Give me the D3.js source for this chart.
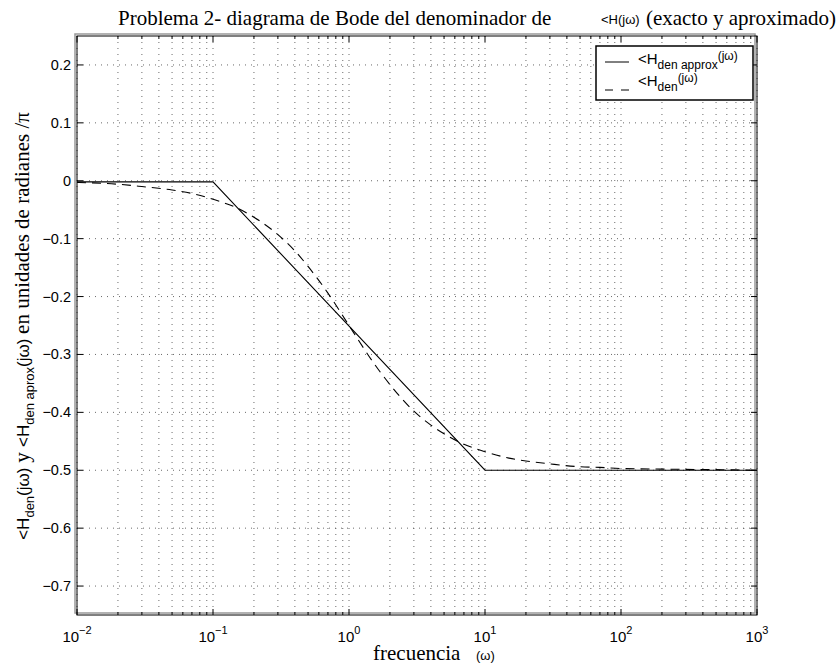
<!DOCTYPE html>
<html>
<head>
<meta charset="utf-8">
<script src="https://cdn.jsdelivr.net/npm/d3@7"></script>
<style>
  body { margin: 0; background: #fff; }
  .serif { font-family: "Liberation Serif", "Times New Roman", serif; }
  .sans { font-family: "Liberation Sans", Arial, sans-serif; }
</style>
</head>
<body>
<div id="chart"></div>
<script>
// frequencies (rad/s)
var wExact = [0.01, 0.02, 0.03, 0.05, 0.07, 0.1, 0.15, 0.2, 0.3, 0.4, 0.5, 0.7, 1,
              1.5, 2, 3, 4, 5, 7, 10, 15, 20, 30, 50, 70, 100, 200, 500, 1000];
// exact phase of the denominator, units of pi
var phExact = [-0.003, -0.006, -0.010, -0.016, -0.022, -0.032, -0.047, -0.063, -0.093, -0.121,
               -0.148, -0.194, -0.25, -0.313, -0.352, -0.398, -0.422, -0.437, -0.455, -0.468,
               -0.479, -0.484, -0.489, -0.494, -0.495, -0.497, -0.498, -0.499, -0.5];
// asymptotic approximation
var wApprox = [0.01, 0.1, 10, 1000];
var phApprox = [-0.002, -0.002, -0.5, -0.5];

var yTicks = [0.2, 0.1, 0, -0.1, -0.2, -0.3, -0.4, -0.5, -0.6, -0.7];
var xDecades = [-2, -1, 0, 1, 2, 3];

var W = 840, H = 668;
var svg = d3.select('#chart').append('svg')
    .attr('width', W).attr('height', H);

var x = d3.scaleLog().domain([0.01, 1000]).range([77, 757]);
var y = d3.scaleLinear().domain([-0.75, 0.25]).range([615, 36]);

// minor tick positions
var minors = [];
xDecades.slice(0, -1).forEach(function(e){
  for (var k = 2; k <= 9; k++) minors.push(k * Math.pow(10, e));
});
var majors = xDecades.map(function(e){ return Math.pow(10, e); });

// grid
var grid = svg.append('g').attr('stroke', '#444').attr('stroke-width', 0.8)
    .attr('stroke-dasharray', '1,5');
grid.selectAll('.gx').data(majors.concat(minors)).enter().append('line')
    .attr('x1', function(d){ return x(d); }).attr('x2', function(d){ return x(d); })
    .attr('y1', 36).attr('y2', 615);
grid.selectAll('.gy').data(yTicks).enter().append('line')
    .attr('y1', function(d){ return y(d); }).attr('y2', function(d){ return y(d); })
    .attr('x1', 77).attr('x2', 757);

// frame (gray shadow + black)
svg.append('rect').attr('x', 75).attr('y', 34).attr('width', 680).attr('height', 579)
    .attr('fill', 'none').attr('stroke', '#999').attr('stroke-width', 1.5);
svg.append('rect').attr('x', 77).attr('y', 36).attr('width', 680).attr('height', 579)
    .attr('fill', 'none').attr('stroke', '#000').attr('stroke-width', 1);

// ticks
var tk = svg.append('g').attr('stroke', '#000').attr('stroke-width', 1);
majors.forEach(function(d){
  tk.append('line').attr('x1', x(d)).attr('x2', x(d)).attr('y1', 615).attr('y2', 609);
  tk.append('line').attr('x1', x(d)).attr('x2', x(d)).attr('y1', 36).attr('y2', 42);
});
minors.forEach(function(d){
  tk.append('line').attr('x1', x(d)).attr('x2', x(d)).attr('y1', 615).attr('y2', 612);
  tk.append('line').attr('x1', x(d)).attr('x2', x(d)).attr('y1', 36).attr('y2', 39);
});
yTicks.forEach(function(d){
  tk.append('line').attr('x1', 77).attr('x2', 83).attr('y1', y(d)).attr('y2', y(d));
  tk.append('line').attr('x1', 757).attr('x2', 751).attr('y1', y(d)).attr('y2', y(d));
});

// y tick labels
svg.append('g').selectAll('text').data(yTicks).enter().append('text')
    .attr('class', 'sans').attr('font-size', 14.5)
    .attr('x', 71).attr('y', function(d){ return y(d) + 5; })
    .attr('text-anchor', 'end')
    .text(function(d){ return d === 0 ? '0' : d3.format('.1f')(d).replace('-', '\u2212'); });

// x tick labels 10^e
xDecades.forEach(function(e){
  var t = svg.append('text').attr('class', 'sans').attr('font-size', 15)
      .attr('x', x(Math.pow(10, e))).attr('y', 642).attr('text-anchor', 'middle');
  t.append('tspan').text('10');
  t.append('tspan').attr('font-size', 11).attr('dy', -8)
      .text(e < 0 ? '\u2212' + (-e) : String(e));
});

// curves
var line = d3.line().x(function(d){ return x(d[0]); }).y(function(d){ return y(d[1]); });
svg.append('path').datum(d3.zip(wApprox, phApprox))
    .attr('d', line).attr('fill', 'none').attr('stroke', '#000').attr('stroke-width', 1.1);
svg.append('path').datum(d3.zip(wExact, phExact))
    .attr('d', line.curve(d3.curveMonotoneX)).attr('fill', 'none').attr('stroke', '#000')
    .attr('stroke-width', 1.1).attr('stroke-dasharray', '9,6');

// legend
var lg = svg.append('g');
lg.append('rect').attr('x', 596).attr('y', 46).attr('width', 157).attr('height', 54)
    .attr('fill', '#fff').attr('stroke', '#000').attr('stroke-width', 1.5);
lg.append('line').attr('x1', 605).attr('x2', 629).attr('y1', 62).attr('y2', 62)
    .attr('stroke', '#000').attr('stroke-width', 1);
lg.append('line').attr('x1', 605).attr('x2', 629).attr('y1', 90).attr('y2', 90)
    .attr('stroke', '#000').attr('stroke-width', 1).attr('stroke-dasharray', '8,8');
var l1 = lg.append('text').attr('class', 'sans').attr('font-size', 15).attr('x', 638).attr('y', 64);
l1.append('tspan').text('<H');
l1.append('tspan').attr('font-size', 12).attr('dy', 5).text('den approx');
l1.append('tspan').attr('font-size', 12).attr('dy', -9).text('(jω)');
var l2 = lg.append('text').attr('class', 'sans').attr('font-size', 15).attr('x', 638).attr('y', 86);
l2.append('tspan').text('<H');
l2.append('tspan').attr('font-size', 12).attr('dy', 5).text('den');
l2.append('tspan').attr('font-size', 12).attr('dy', -9).text('(jω)');

// title
svg.append('text').attr('class', 'serif').attr('font-size', 21)
    .attr('x', 118).attr('y', 25).text('Problema 2- diagrama de Bode del denominador de');
svg.append('text').attr('class', 'sans').attr('font-size', 13)
    .attr('x', 601).attr('y', 24).text('<H(jω)');
svg.append('text').attr('class', 'serif').attr('font-size', 21)
    .attr('x', 836).attr('y', 25).attr('text-anchor', 'end').text('(exacto y aproximado)');

// x label
svg.append('text').attr('class', 'serif').attr('font-size', 21)
    .attr('x', 373).attr('y', 660).text('frecuencia');
svg.append('text').attr('class', 'sans').attr('font-size', 13)
    .attr('x', 476).attr('y', 660).text('(ω)');

// y label, centred on the axis
var yl = svg.append('text').attr('transform', 'translate(29,326) rotate(-90)')
    .attr('text-anchor', 'middle').attr('font-size', 17).attr('class', 'sans');
yl.append('tspan').text('<H');
yl.append('tspan').attr('font-size', 13).attr('dy', 5).text('den');
yl.append('tspan').attr('dy', -5).text('(jω) ');
yl.append('tspan').attr('class', 'serif').attr('font-size', 21).text('y ');
yl.append('tspan').text('<H');
yl.append('tspan').attr('font-size', 13).attr('dy', 5).text('den aprox');
yl.append('tspan').attr('dy', -5).text('(jω) ');
yl.append('tspan').attr('class', 'serif').attr('font-size', 21).text('en unidades de radianes /π');
</script>
</body>
</html>
